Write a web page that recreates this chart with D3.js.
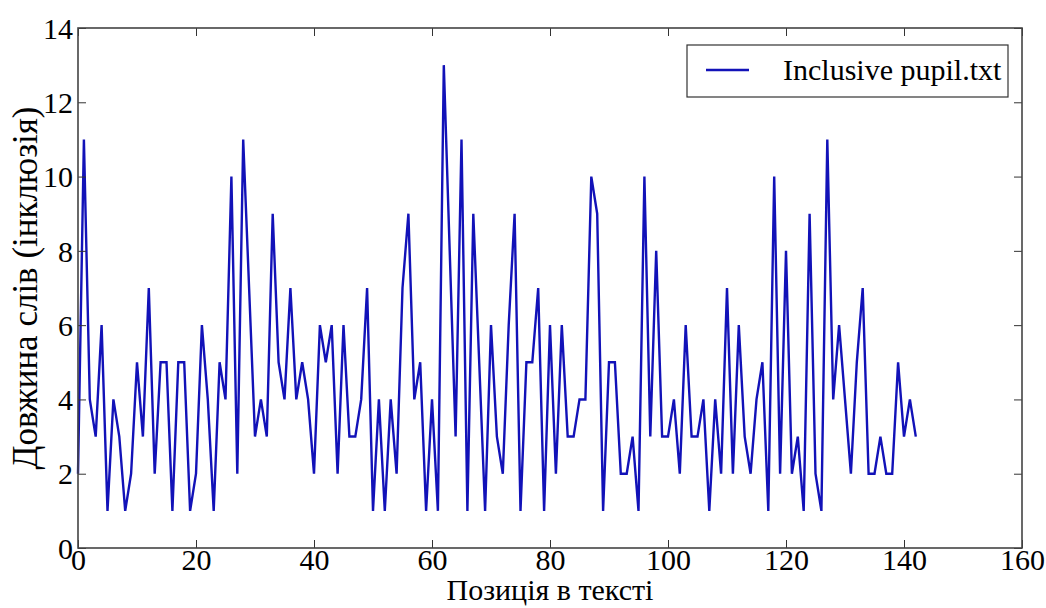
<!DOCTYPE html>
<html>
<head>
<meta charset="utf-8">
<script src="https://cdn.jsdelivr.net/npm/d3@7"></script>
<style>
  body { margin: 0; background: #fff; }
  svg text { font-family: "Liberation Serif", "Times New Roman", Times, serif !important; fill: #000; }
</style>
</head>
<body>
<div id="chart"></div>
<script>
// word lengths, one per position 0..142
const lengths = [
  2, 11, 4, 3, 6, 1, 4, 3, 1, 2, 5, 3, 7, 2, 5, 5, 1, 5, 5, 1,
  2, 6, 4, 1, 5, 4, 10, 2, 11, 7, 3, 4, 3, 9, 5, 4, 7, 4, 5, 4,
  2, 6, 5, 6, 2, 6, 3, 3, 4, 7, 1, 4, 1, 4, 2, 7, 9, 4, 5, 1,
  4, 1, 13, 8, 3, 11, 1, 9, 5, 1, 6, 3, 2, 6, 9, 1, 5, 5, 7, 1,
  6, 2, 6, 3, 3, 4, 4, 10, 9, 1, 5, 5, 2, 2, 3, 1, 10, 3, 8, 3,
  3, 4, 2, 6, 3, 3, 4, 1, 4, 2, 7, 2, 6, 3, 2, 4, 5, 1, 10, 2,
  8, 2, 3, 1, 9, 2, 1, 11, 4, 6, 4, 2, 5, 7, 2, 2, 3, 2, 2, 5,
  3, 4, 3
];
const positions = lengths.map((d, i) => i);
const xTicks = [0, 20, 40, 60, 80, 100, 120, 140, 160];
const yTicks = [0, 2, 4, 6, 8, 10, 12, 14];
const seriesName = 'Inclusive pupil.txt';
const xTitle = 'Позиція в тексті';
const yTitle = 'Довжина слів (інклюзія)';

const width = 1046, height = 608;
const margin = {top: 28, right: 24, bottom: 60, left: 78};
const w = width - margin.left - margin.right;
const h = height - margin.top - margin.bottom;

const svg = d3.select('#chart').append('svg')
  .attr('width', width)
  .attr('height', height);

const g = svg.append('g')
  .attr('transform', `translate(${margin.left},${margin.top})`);

const x = d3.scaleLinear().domain([0, 160]).range([0, w]);
const y = d3.scaleLinear().domain([0, 14]).range([h, 0]);

// data line
const line = d3.line()
  .x((d, i) => x(positions[i]))
  .y(d => y(d));

g.append('path')
  .datum(lengths)
  .attr('fill', 'none')
  .attr('stroke', '#1212b8')
  .attr('stroke-width', 2.4)
  .attr('stroke-linejoin', 'miter')
  .attr('d', line);

// axes, ticks pointing inward on all four sides
const tickLen = 8;
const axisB = g.append('g')
  .attr('transform', `translate(0,${h})`)
  .call(d3.axisBottom(x).tickValues(xTicks).tickSizeInner(-tickLen).tickSizeOuter(0).tickPadding(1));
const axisT = g.append('g')
  .call(d3.axisTop(x).tickValues(xTicks).tickSizeInner(-tickLen).tickSizeOuter(0).tickFormat(''));
const axisL = g.append('g')
  .call(d3.axisLeft(y).tickValues(yTicks).tickSizeInner(-tickLen).tickSizeOuter(0).tickPadding(5));
const axisR = g.append('g')
  .attr('transform', `translate(${w},0)`)
  .call(d3.axisRight(y).tickValues(yTicks).tickSizeInner(-tickLen).tickSizeOuter(0).tickFormat(''));

[axisB, axisT, axisL, axisR].forEach(a => {
  a.attr('font-family', null).attr('font-size', null);
  a.select('.domain').remove();
  a.selectAll('.tick line').attr('stroke', '#333').attr('stroke-width', 1);
  a.selectAll('.tick text')
    .attr('font-size', 30)
    .style('font-size', '30px')
    .attr('fill', '#000');
});
axisL.selectAll('.tick text').attr('dy', '0.34em');
axisB.selectAll('.tick text').attr('dy', '0.7em');

// frame
g.append('rect')
  .attr('width', w)
  .attr('height', h)
  .attr('fill', 'none')
  .attr('stroke', '#444')
  .attr('stroke-width', 1.6);

// axis titles
svg.append('text')
  .attr('x', margin.left + w / 2)
  .attr('y', 600)
  .attr('text-anchor', 'middle')
  .style('font-size', '30px')
  .text(xTitle);

svg.append('text')
  .attr('transform', `translate(37,${margin.top + h / 2}) rotate(-90)`)
  .attr('text-anchor', 'middle')
  .style('font-size', '35px')
  .text(yTitle);

// legend
const legend = svg.append('g')
  .attr('transform', 'translate(687,45)');
legend.append('rect')
  .attr('width', 321)
  .attr('height', 52)
  .attr('fill', '#fff')
  .attr('stroke', '#333')
  .attr('stroke-width', 1.2);
legend.append('line')
  .attr('x1', 19).attr('x2', 62)
  .attr('y1', 25).attr('y2', 25)
  .attr('stroke', '#1212b8')
  .attr('stroke-width', 2.4);
legend.append('text')
  .attr('x', 96)
  .attr('y', 35)
  .style('font-size', '30px')
  .text(seriesName);
</script>
</body>
</html>
